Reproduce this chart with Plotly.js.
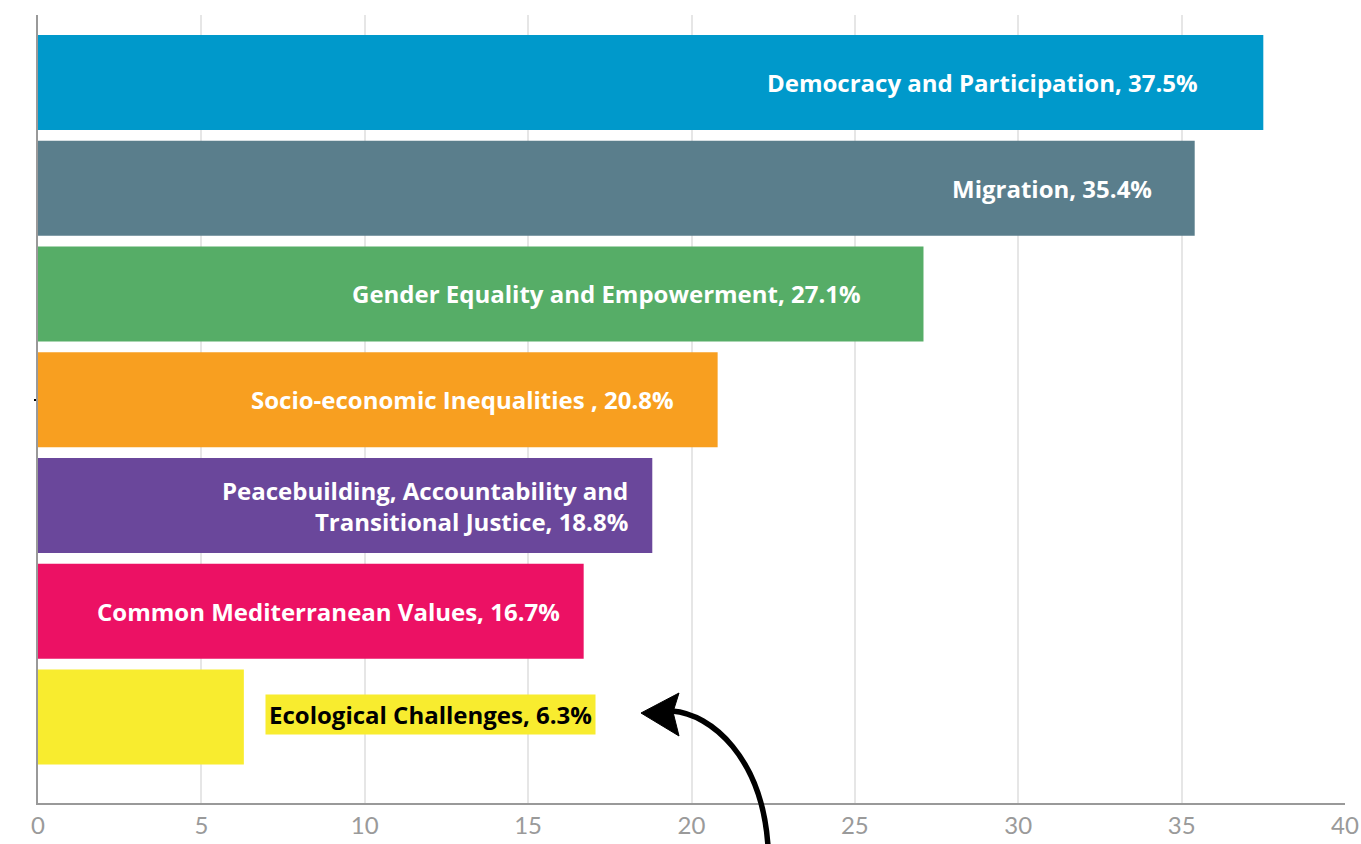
<!DOCTYPE html>
<html>
<head>
<meta charset="utf-8">
<script src="https://cdn.plot.ly/plotly-3.0.1.min.js"></script>
<style>
  html, body { margin: 0; padding: 0; background: #fff; }
  #chart { width: 1361px; height: 844px; }
</style>
</head>
<body>
<div id="chart"></div>
<script>
// ---- data ----
const categories = [
  "Democracy and Participation",
  "Migration",
  "Gender Equality and Empowerment",
  "Socio-economic Inequalities ",
  "Peacebuilding, Accountability and<br>Transitional Justice",
  "Common Mediterranean Values",
  "Ecological Challenges"
];
const values = [37.5, 35.4, 27.1, 20.8, 18.8, 16.7, 6.3];
const colors = ["#0099cb", "#5a7e8c", "#56ad67", "#f89f20", "#6a479b", "#ec1164", "#f8ec2f"];
const xTicks = [0, 5, 10, 15, 20, 25, 30, 35, 40];

// ---- layout geometry (pixels) ----
const W = 1361, H = 844;
const M = { l: 38, r: 16, t: 15, b: 41 };
const plotW = W - M.l - M.r, plotH = H - M.t - M.b;
const labelPad = [63, 41, 60, 42, 22, 22];   // px gap between label end and bar end
const FONT = "'Open Sans', Lato, sans-serif";
const TICKFONT = "Lato, 'Open Sans', sans-serif";
const LABEL_SIZE = 24;

function px2paper(X, Y) { return [(X - M.l) / plotW, (M.t + plotH - Y) / plotH]; }
function pathFrom(cmds) {
  return cmds.map(c => {
    if (c.length === 1) return c[0];
    const parts = [];
    for (let i = 1; i < c.length; i += 2) {
      const p = px2paper(c[i], c[i + 1]);
      parts.push(p[0].toFixed(5) + "," + p[1].toFixed(5));
    }
    return c[0] + parts.join(" ");
  }).join(" ");
}

const trace = {
  type: "bar",
  orientation: "h",
  y: categories,
  x: values,
  width: 0.9,
  marker: { color: colors, line: { width: 0 } },
  hoverinfo: "skip"
};

const annotations = [];
values.forEach((v, i) => {
  const label = categories[i] + ", " + v.toFixed(1) + "%";
  if (i < values.length - 1) {
    annotations.push({
      x: v, y: categories[i], xref: "x", yref: "y",
      xanchor: "right", yanchor: "middle", align: "right",
      xshift: -labelPad[i], yshift: 0,
      text: label, showarrow: false,
      font: { family: FONT, size: LABEL_SIZE, color: "#ffffff", weight: 700 }
    });
  } else {
    annotations.push({
      x: v, y: categories[i], xref: "x", yref: "y",
      xanchor: "left", yanchor: "middle", align: "left",
      xshift: 21, yshift: 3,
      text: label, showarrow: false,
      bgcolor: "#f8ec2f", borderpad: 3,
      font: { family: FONT, size: LABEL_SIZE, color: "#000000", weight: 700 }
    });
  }
});

const shapes = [
  {
    type: "path", xref: "paper", yref: "paper", layer: "above",
    path: pathFrom([["M", 672, 711], ["C", 712, 714, 762, 758, 768, 846]]),
    line: { color: "#000", width: 5.5 }, fillcolor: "rgba(0,0,0,0)"
  },
  {
    type: "path", xref: "paper", yref: "paper", layer: "above",
    path: pathFrom([["M", 641, 713], ["L", 679, 693], ["L", 673, 712], ["L", 679, 736], ["Z"]]),
    line: { color: "#000", width: 1 }, fillcolor: "#000"
  }
];

const layout = {
  width: W, height: H,
  margin: M,
  paper_bgcolor: "#fff", plot_bgcolor: "#fff",
  showlegend: false,
  bargap: 0.1,
  xaxis: {
    range: [0, 40],
    tickvals: xTicks,
    ticktext: xTicks.map(String),
    showgrid: true, gridcolor: "#e6e6e6", gridwidth: 2,
    zeroline: false,
    showline: true, linecolor: "#999999", linewidth: 2,
    ticks: "", ticklen: 0,
    tickfont: { family: TICKFONT, size: 24, color: "#9a9a9a" },
    fixedrange: true
  },
  yaxis: {
    type: "category",
    range: [6.813, -0.638],
    showgrid: false, zeroline: false,
    showline: true, linecolor: "#999999", linewidth: 2,
    showticklabels: false,
    ticks: "outside", ticklen: 2, tickwidth: 2, tickcolor: "#000",
    tickvals: [categories[3]],
    fixedrange: true
  },
  annotations: annotations,
  shapes: shapes
};

Plotly.newPlot("chart", [trace], layout, { displayModeBar: false, staticPlot: true });
</script>
</body>
</html>
